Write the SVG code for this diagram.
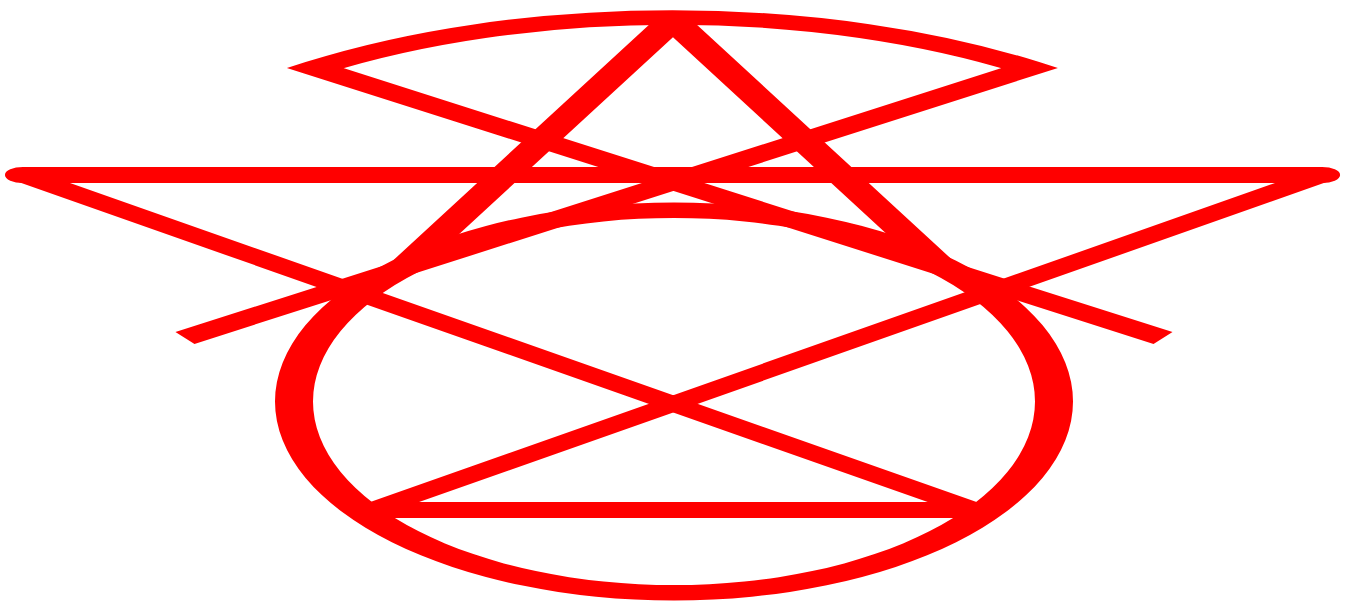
<svg xmlns="http://www.w3.org/2000/svg" width="1353" height="602" viewBox="0 0 1353 602">
<style>
.s{fill:none;stroke:#ff0000;stroke-linecap:butt}
.r{stroke-linecap:round;stroke-linejoin:round}
</style>
<rect width="1353" height="602" fill="#ffffff"/>
<g id="ellipse">
<path fill="#ff0000" fill-rule="evenodd" d="M275,401.5 a399,199 0 1,0 798,0 a399,199 0 1,0 -798,0 Z M313,401.5 a361,183.5 0 1,0 722,0 a361,183.5 0 1,0 -722,0 Z"/>
</g>
<g transform="scale(2.25,1)">
<g id="bowtie">
<path class="s r" stroke-width="16" d="M10.2,175 L587.6,175 M165.3,510 L433.3,510"/>
<path class="s r" stroke-width="13.5" d="M10.2,175 L433.3,510 M587.6,175 L165.3,510"/>
</g>
<g id="top-arc"><path class="s" stroke-width="14.5" stroke-linejoin="miter" stroke-miterlimit="10" d="M82.2,338 L457.7,68 A275,275 0 0 0 140,68 L516.9,338"/></g>
<g id="apex"><path class="s" stroke-width="15" stroke-linejoin="round" d="M181.3,264 L299.1,20 L416.9,264"/></g>
</g>
</svg>
